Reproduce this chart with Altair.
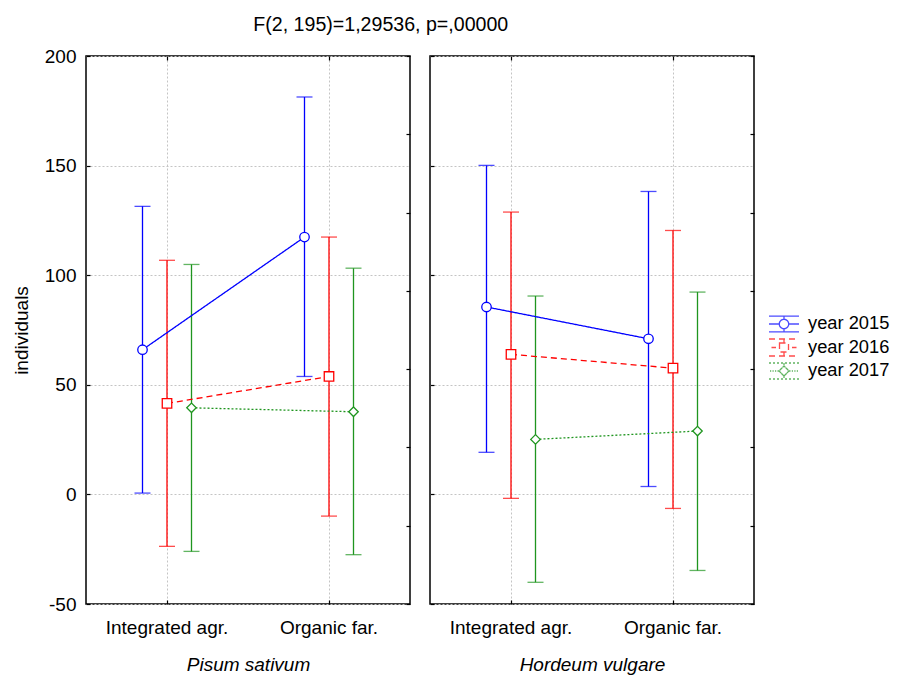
import altair as alt
import pandas as pd

# ---------------- data ----------------
crops = ["Pisum sativum", "Hordeum vulgare"]
treatments = ["Integrated agr.", "Organic far."]
years = ["year 2015", "year 2016", "year 2017"]

# [treatment][year]
pisum_mean = [[66.0, 41.5, 39.5], [117.4, 53.8, 37.7]]
pisum_low = [[0.6, -23.7, -26.0], [53.8, -9.9, -27.5]]
pisum_high = [[131.4, 106.8, 104.9], [181.3, 117.4, 103.2]]

hordeum_mean = [[85.5, 63.9, 25.1], [71.0, 57.6, 28.9]]
hordeum_low = [[19.2, -1.8, -40.1], [3.6, -6.4, -34.7]]
hordeum_high = [[150.1, 128.8, 90.5], [138.2, 120.4, 92.3]]

y_ticks = [-50, 0, 50, 100, 150, 200]
right_ticks = [0, 1, 2, 3, 4, 5, 6, 7]
title_text = "F(2, 195)=1,29536, p=,00000"

colors = ["#0000ff", "#ff0000", "#1f951f"]
dashes = [[1, 0], [6, 4], [2, 2]]
offset_domain = ["_pad_l"] + years + ["_pad_r"]

# legend glyphs: line + caps + open marker (custom svg paths; each marker is
# traced twice in opposite directions so that it has no filled area)
leg_circle = ("M-1.5,-0.78H1.5M-1.5,0.78H1.5M0,-0.78V-0.47M0,0.47V0.78"
              "M-1.5,0H-0.47M0.47,0H1.5"
              "M0.47,0A0.47,0.47 0 1,1 -0.47,0A0.47,0.47 0 1,1 0.47,0Z"
              "M0.47,0A0.47,0.47 0 1,0 -0.47,0A0.47,0.47 0 1,0 0.47,0Z")
leg_square = ("M-1.5,-0.85H1.5M-1.5,0.85H1.5M0,-0.85V-0.45M0,0.45V0.85"
              "M-1.25,0H-0.8M0.8,0H1.25"
              "M-0.45,-0.45H0.45V0.45H-0.45Z"
              "M-0.45,-0.45V0.45H0.45V-0.45Z")
leg_diamond = ("M-1.5,-0.8H1.5M-1.5,0.8H1.5M0,-0.8V-0.5M0,0.5V0.8"
               "M-1.4,0H-1.28M-1.15,0H-1.03M-0.9,0H-0.78M-0.65,0H-0.53"
               "M0.53,0H0.65M0.78,0H0.9M1.03,0H1.15M1.28,0H1.4"
               "M0,-0.5L0.5,0L0,0.5L-0.5,0Z"
               "M0,-0.5L-0.5,0L0,0.5L0.5,0Z")

rows = []
for crop, M, L, H in [(crops[0], pisum_mean, pisum_low, pisum_high),
                      (crops[1], hordeum_mean, hordeum_low, hordeum_high)]:
    for ti, t in enumerate(treatments):
        for yi, yr in enumerate(years):
            rows.append(dict(crop=crop, treat=t, series=yr,
                             mean=M[ti][yi], lo=L[ti][yi], hi=H[ti][yi]))
df = pd.DataFrame(rows)

FONT = "Liberation Sans"
W, H_ = 324, 548

LEGEND = alt.Legend(title=None, symbolFillColor="white")


def panel(crop, first, legend):
    d = df[df.crop == crop]
    base = alt.Chart(d)

    xax = alt.Axis(orient="bottom", offset=-4, tickSize=4, tickColor="black",
                   tickWidth=1.2, domain=False, grid=True, gridColor="#c4c4c4",
                   gridDash=[2, 2], gridWidth=1, labelAngle=0, bandPosition=0.5,
                   labelFont=FONT, labelFontSize=19, labelColor="black",
                   labelPadding=14, title=crop, titleFont=FONT, titleFontSize=19,
                   titleFontStyle="italic", titleFontWeight="normal",
                   titleColor="black", titlePadding=18)
    yax = alt.Axis(orient="left", offset=-4, tickSize=4, tickColor="black",
                   tickWidth=1.2, values=y_ticks, domain=False, grid=True,
                   gridColor="#c4c4c4", gridDash=[2, 2], gridWidth=1,
                   labels=first, labelFont=FONT, labelFontSize=19,
                   labelExpr="'' + datum.value",
                   labelColor="black", labelPadding=10, labelFlush=False,
                   title="individuals" if first else None, titleFont=FONT,
                   titleFontSize=19, titleFontWeight="normal",
                   titleColor="black", titlePadding=13)

    xs = alt.Scale(domain=treatments, paddingInner=0, paddingOuter=0)
    xo = alt.XOffset("series:N", scale=alt.Scale(domain=offset_domain, paddingInner=0,
                                                 paddingOuter=0.806))
    ys = alt.Scale(domain=[-50, 200], nice=False, zero=False)
    col = alt.Color("series:N", scale=alt.Scale(domain=years, range=colors),
                    legend=LEGEND)
    fil = alt.Fill("series:N", scale=alt.Scale(domain=years, range=colors), legend=None)
    X = alt.X("treat:N", scale=xs, axis=xax)

    rules = base.mark_rule(strokeWidth=1.3).encode(
        x=X, xOffset=xo, y=alt.Y("lo:Q", scale=ys, axis=yax), y2="hi:Q", color=col)
    cap_hi = base.mark_tick(orient="horizontal", size=16, thickness=1.3).encode(
        x=X, xOffset=xo, y=alt.Y("hi:Q", scale=ys, axis=yax), fill=fil)
    cap_lo = base.mark_tick(orient="horizontal", size=16, thickness=1.3).encode(
        x=X, xOffset=xo, y=alt.Y("lo:Q", scale=ys, axis=yax), fill=fil)
    lines = base.mark_line(strokeWidth=1.3).encode(
        x=X, xOffset=xo, y=alt.Y("mean:Q", scale=ys, axis=yax), color=col,
        strokeDash=alt.StrokeDash("series:N", scale=alt.Scale(domain=years, range=dashes),
                                  legend=None),
        detail="series:N")
    pts = []
    for yr, shp in zip(years, ["circle", "square", "diamond"]):
        pts.append(base.transform_filter(alt.datum.series == yr).mark_point(
            shape=shp, size=90, filled=True, fill="white", strokeWidth=1.3, opacity=1).encode(
            x=X, xOffset=xo, y=alt.Y("mean:Q", scale=ys, axis=yax),
            stroke=alt.Stroke("series:N", scale=alt.Scale(domain=years, range=colors),
                              legend=None)))
    layers = [rules, cap_hi, cap_lo, lines] + pts
    if legend:
        leg = base.transform_filter("false").mark_point(filled=False, strokeWidth=1.3).encode(
            x=X, y=alt.Y("mean:Q", scale=ys, axis=yax), color=col,
            shape=alt.Shape("series:N", scale=alt.Scale(domain=years,
                                                        range=[leg_circle, leg_square, leg_diamond]),
                            legend=LEGEND))
        layers = [leg] + layers
    main = alt.layer(*layers)

    sec = base.transform_filter("false").mark_point().encode(
        y=alt.Y("mean:Q", scale=alt.Scale(domain=[0, 7], nice=False, zero=False),
                axis=alt.Axis(orient="right", offset=-4, tickSize=4, tickColor="black",
                              tickWidth=1.2, values=right_ticks, labels=False,
                              domain=False, grid=False, title=None)),
        x=alt.X("treat:N", scale=alt.Scale(domain=treatments, paddingInner=0, paddingOuter=0),
                axis=alt.Axis(orient="top", offset=-4, tickSize=4, tickColor="black",
                              tickWidth=1.2, labels=False, domain=False, grid=False,
                              bandPosition=0.5, title=None)))
    return alt.layer(main, sec).resolve_scale(y="independent", x="independent").properties(
        width=W, height=H_)


chart = alt.hconcat(panel(crops[0], True, True), panel(crops[1], False, False),
                    spacing=16).resolve_scale(color="shared", shape="shared", stroke="shared",
                                              fill="shared")
chart = chart.properties(
    title=alt.TitleParams(title_text, font=FONT, fontSize=19.6, fontWeight="normal",
                          color="black", anchor="middle", dx=-70, offset=11),
    padding={"left": 3, "top": 6, "right": 0, "bottom": 5},
    background="white",
).configure_view(stroke="black", strokeWidth=1.5).configure_legend(
    orient="none", legendX=687, legendY=257, symbolSize=400, symbolStrokeWidth=1.3,
    labelFont=FONT, labelFontSize=18.3, labelColor="black", labelOffset=13,
    rowPadding=0.5, padding=0, symbolType="circle", symbolFillColor="white"
)

chart.save("out.html", embed_options={"renderer": "svg", "actions": False})
